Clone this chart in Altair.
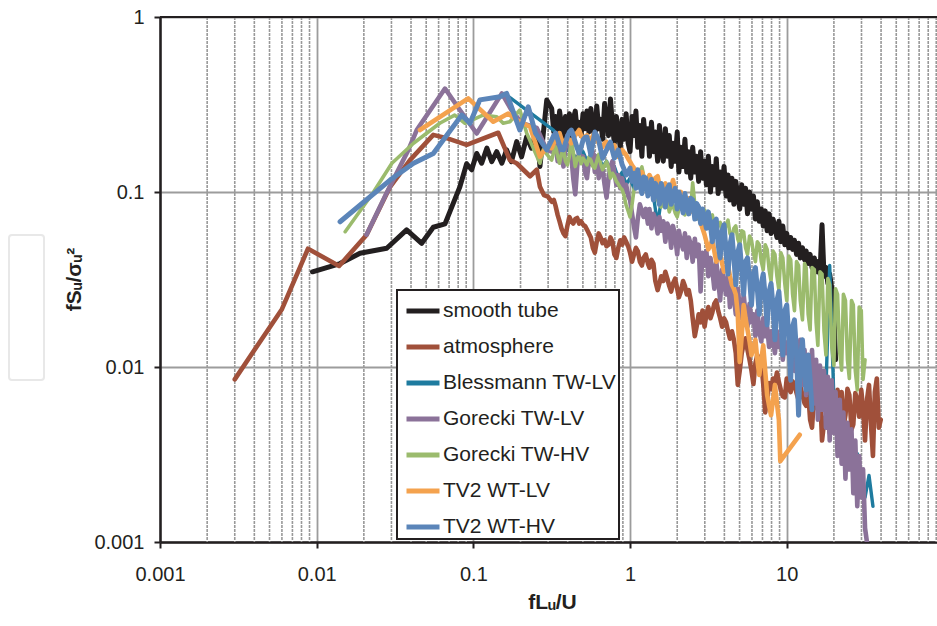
import altair as alt
import pandas as pd

SERIES = ["smooth tube", "atmosphere", "Blessmann TW-LV", "Gorecki TW-LV",
          "Gorecki TW-HV", "TV2 WT-LV", "TV2 WT-HV"]
COLORS = ["#231f20", "#a0503a", "#1e7b9f", "#8b7299", "#9bbb6d", "#f4a24e", "#5b85b9"]
WIDTHS = [5, 4.6, 3.4, 4.6, 3.6, 4.6, 5]

# frequency grid (fLu/U) of the densely sampled part of the spectra
FREQ = [0.316, 0.326, 0.335, 0.345, 0.355, 0.365, 0.376, 0.387, 0.398, 0.410,
        0.422, 0.434, 0.447, 0.460, 0.473, 0.487, 0.501, 0.516, 0.531, 0.546,
        0.562, 0.579, 0.596, 0.613, 0.631, 0.649, 0.668, 0.688, 0.708, 0.729,
        0.750, 0.772, 0.794, 0.818, 0.841, 0.866, 0.891, 0.917, 0.944, 0.972,
        1.00, 1.03, 1.06, 1.09, 1.12, 1.155, 1.19, 1.22, 1.26, 1.30,
        1.33, 1.37, 1.41, 1.45, 1.50, 1.54, 1.58, 1.63, 1.68, 1.73,
        1.78, 1.83, 1.88, 1.94, 2.00, 2.05, 2.11, 2.18, 2.24, 2.30,
        2.37, 2.44, 2.51, 2.59, 2.66, 2.74, 2.82, 2.90, 2.99, 3.07,
        3.16, 3.26, 3.35, 3.45, 3.55, 3.65, 3.76, 3.87, 3.98, 4.10,
        4.22, 4.34, 4.47, 4.60, 4.73, 4.87, 5.01, 5.16, 5.31, 5.46,
        5.62, 5.79, 5.96, 6.13, 6.31, 6.49, 6.68, 6.88, 7.08, 7.29,
        7.50, 7.72, 7.94, 8.18, 8.41, 8.66, 8.91, 9.17, 9.44, 9.72,
        10.0, 10.3, 10.6, 10.9, 11.2, 11.55, 11.9, 12.2, 12.6, 13.0,
        13.3, 13.7, 14.1, 14.5, 15.0, 15.4, 15.8, 16.3, 16.8, 17.3,
        17.8, 18.3, 18.8, 19.4, 20.0, 20.5, 21.1, 21.8, 22.4, 23.0,
        23.7, 24.4, 25.1, 25.9, 26.6, 27.4, 28.2, 29.0, 29.9, 30.7,
        31.6, 32.6, 33.5, 34.5, 35.5, 36.5, 37.6, 38.7, 39.8]

MAJOR_X = [0.001, 0.01, 0.1, 1, 10]
MAJOR_Y = [0.001, 0.01, 0.1, 1]
MINOR_X = [0.002, 0.003, 0.004, 0.005, 0.006, 0.007, 0.008, 0.009,
           0.02, 0.03, 0.04, 0.05, 0.06, 0.07, 0.08, 0.09,
           0.2, 0.3, 0.4, 0.5, 0.6, 0.7, 0.8, 0.9,
           2, 3, 4, 5, 6, 7, 8, 9,
           20, 30, 40, 50, 60, 70, 80, 90]

# smooth tube
SMOOTH_X = [0.0094, 0.0141, 0.0189, 0.028, 0.0375, 0.0468, 0.0555, 0.0659, 0.082, 0.0906,
            0.0975, 0.105, 0.113, 0.122, 0.131, 0.141, 0.152, 0.163, 0.175, 0.189,
            0.203, 0.219, 0.235, 0.254, 0.266, 0.294]
SMOOTH_Y = [0.035, 0.039, 0.0447, 0.0477, 0.0607, 0.0509, 0.0629, 0.0657, 0.107, 0.145,
            0.134, 0.166, 0.146, 0.178, 0.149, 0.17, 0.146, 0.174, 0.149, 0.194,
            0.159, 0.207, 0.178, 0.226, 0.14, 0.336]
SMOOTH_START = 0
SMOOTH_DENSE = [0.30, 0.22, 0.27, 0.21, 0.29, 0.24, 0.20, 0.27, 0.22, 0.28,
                0.21, 0.26, 0.29, 0.22, 0.25, 0.21, 0.28, 0.23, 0.29, 0.22,
                0.30, 0.24, 0.20, 0.31, 0.23, 0.26, 0.20, 0.32, 0.25, 0.21,
                0.34, 0.24, 0.19, 0.27, 0.22, 0.18, 0.26, 0.20, 0.28, 0.19,
                0.17, 0.27, 0.21, 0.29, 0.18, 0.24, 0.16, 0.26, 0.19, 0.23,
                0.16, 0.25, 0.17, 0.22, 0.15, 0.24, 0.18, 0.15, 0.23, 0.16,
                0.21, 0.14, 0.19, 0.15, 0.22, 0.13, 0.18, 0.14, 0.20, 0.13,
                0.17, 0.12, 0.18, 0.13, 0.16, 0.115, 0.17, 0.12, 0.15, 0.11,
                0.16, 0.10, 0.14, 0.11, 0.155, 0.098, 0.13, 0.105, 0.14, 0.095,
                0.125, 0.09, 0.12, 0.085, 0.115, 0.095, 0.08, 0.11, 0.085, 0.105,
                0.075, 0.10, 0.08, 0.095, 0.07, 0.088, 0.068, 0.08, 0.064, 0.078,
                0.06, 0.075, 0.058, 0.07, 0.062, 0.055, 0.068, 0.052, 0.064, 0.05,
                0.058, 0.048, 0.055, 0.047, 0.053, 0.044, 0.051, 0.042, 0.048, 0.041,
                0.046, 0.039, 0.044, 0.037, 0.042, 0.035, 0.04, 0.034, 0.065, 0.033,
                0.037, 0.03, 0.034, 0.028, 0.02, 0.011]

# atmosphere
ATM_X = [0.003, 0.006, 0.0088, 0.0139, 0.0208, 0.0294, 0.0394, 0.0555, 0.0676, 0.0906,
         0.144, 0.171, 0.189, 0.23, 0.254, 0.266, 0.282, 0.299]
ATM_Y = [0.0085, 0.0214, 0.0474, 0.0378, 0.0568, 0.107, 0.152, 0.212, 0.203, 0.186,
         0.218, 0.152, 0.146, 0.123, 0.134, 0.107, 0.096, 0.094]
ATM_START = 0
ATM_DENSE = [0.088, 0.09, 0.083, 0.074, 0.068, 0.062, 0.058, 0.056, 0.064, 0.072,
             0.068, 0.066, 0.07, 0.071, 0.066, 0.068, 0.065, 0.064, 0.061, 0.058,
             0.055, 0.048, 0.045, 0.052, 0.058, 0.055, 0.051, 0.053, 0.049, 0.05,
             0.055, 0.052, 0.044, 0.042, 0.048, 0.053, 0.05, 0.055, 0.052, 0.049,
             0.045, 0.04, 0.044, 0.048, 0.046, 0.04, 0.038, 0.042, 0.044, 0.039,
             0.037, 0.041, 0.039, 0.031, 0.0275, 0.03, 0.033, 0.031, 0.035, 0.032,
             0.029, 0.027, 0.03, 0.032, 0.028, 0.025, 0.027, 0.031, 0.029, 0.026,
             0.0275, 0.024, 0.019, 0.015, 0.017, 0.02, 0.018, 0.021, 0.017, 0.02,
             0.022, 0.019, 0.0205, 0.023, 0.024, 0.021, 0.019, 0.017, 0.019, 0.018,
             0.016, 0.0145, 0.016, 0.0143, 0.012, 0.0079, 0.0095, 0.012, 0.0135, 0.0146,
             0.0125, 0.011, 0.0095, 0.008, 0.0105, 0.0117, 0.0112, 0.0107, 0.008, 0.0055,
             0.0065, 0.0081, 0.0075, 0.0086, 0.008, 0.0093, 0.0082, 0.0074, 0.0068, 0.0067,
             0.0086, 0.0075, 0.0072, 0.0083, 0.0079, 0.0071, 0.0065, 0.0078, 0.0069, 0.0062,
             0.006, 0.0072, 0.005, 0.0045, 0.0072, 0.0066, 0.0057, 0.0074, 0.0038, 0.0048,
             0.0053, 0.0068, 0.0042, 0.0061, 0.0069, 0.0048, 0.0074, 0.0055, 0.0072, 0.0045,
             0.0053, 0.0075, 0.0069, 0.0044, 0.0047, 0.0071, 0.0065, 0.0052, 0.0074, 0.0058,
             0.0038, 0.0066, 0.0079, 0.0047, 0.0031, 0.0072, 0.0086, 0.0045, 0.005]

# Blessmann TW-LV (sampled on every second grid frequency)
BLE_X = [0.158, 0.324]
BLE_Y = [0.365, 0.226]
BLE_START = 4
BLE_STEP = 2
BLE_DENSE = [0.2, 0.19, 0.175, 0.165, 0.16, 0.155, 0.17, 0.15,
             0.165, 0.145, 0.16, 0.14, 0.15, 0.13, 0.14, 0.12, 0.13, 0.11,
             0.12, 0.105, 0.11, 0.1, 0.108, 0.1, 0.095, 0.065, 0.09, 0.085,
             0.107, 0.09, 0.095, 0.08, 0.088, 0.075, 0.082, 0.07, 0.076, 0.062,
             0.07, 0.058, 0.065, 0.05, 0.058, 0.045, 0.052, 0.04, 0.047, 0.035,
             0.04, 0.03, 0.035, 0.025, 0.03, 0.021, 0.026, 0.018, 0.022, 0.015,
             0.018, 0.0125, 0.015, 0.0105, 0.013, 0.009, 0.0105, 0.0075, 0.009, 0.0062,
             0.0075, 0.038, 0.0065, 0.0045, 0.0055, 0.0035, 0.0042, 0.0027, 0.0032, 0.0021,
             0.0018, 0.0024, 0.0016]

# Gorecki TW-LV
GLV_X = [0.0208, 0.028, 0.0385, 0.0435, 0.0659, 0.082, 0.105, 0.152, 0.175, 0.203,
         0.254, 0.294]
GLV_Y = [0.057, 0.099, 0.174, 0.226, 0.39, 0.294, 0.216, 0.366, 0.294, 0.248,
         0.232, 0.174]
GLV_START = 0
GLV_DENSE = [0.17, 0.21, 0.19, 0.15, 0.2, 0.16, 0.14, 0.18, 0.21, 0.19,
             0.16, 0.12, 0.097, 0.14, 0.17, 0.15, 0.16, 0.13, 0.12, 0.15,
             0.145, 0.17, 0.13, 0.16, 0.12, 0.14, 0.135, 0.11, 0.093, 0.12,
             0.14, 0.15, 0.13, 0.11, 0.125, 0.105, 0.12, 0.1, 0.11, 0.095,
             0.09, 0.075, 0.063, 0.055, 0.07, 0.085, 0.078, 0.072, 0.08, 0.066,
             0.08, 0.062, 0.075, 0.07, 0.058, 0.072, 0.06, 0.068, 0.052, 0.066,
             0.062, 0.048, 0.064, 0.056, 0.044, 0.06, 0.052, 0.047, 0.058, 0.042,
             0.055, 0.05, 0.04, 0.054, 0.043, 0.05, 0.027, 0.045, 0.038, 0.046,
             0.033, 0.042, 0.036, 0.028, 0.04, 0.032, 0.024, 0.036, 0.03, 0.026,
             0.034, 0.022, 0.03, 0.025, 0.02, 0.028, 0.022, 0.019, 0.026, 0.02,
             0.017, 0.023, 0.018, 0.02, 0.015, 0.021, 0.016, 0.014, 0.019, 0.015,
             0.017, 0.013, 0.016, 0.014, 0.012, 0.016, 0.013, 0.015, 0.011, 0.014,
             0.012, 0.013, 0.0105, 0.014, 0.0095, 0.0125, 0.0085, 0.0143, 0.0079, 0.0125,
             0.0069, 0.0117, 0.0075, 0.0125, 0.0062, 0.011, 0.005, 0.0102, 0.0057, 0.0095,
             0.0045, 0.0088, 0.0038, 0.0084, 0.0042, 0.0072, 0.0031, 0.0065, 0.0028, 0.0055,
             0.0023, 0.0048, 0.0026, 0.0044, 0.0019, 0.0038, 0.0016, 0.0031, 0.0018, 0.0026,
             0.0012, 0.00098]

# Gorecki TW-HV
GHV_X = [0.0152, 0.0229, 0.0302, 0.0415, 0.061, 0.076, 0.0884, 0.115, 0.141, 0.155,
         0.171, 0.198, 0.219, 0.266, 0.279]
GHV_Y = [0.0593, 0.099, 0.146, 0.19, 0.247, 0.275, 0.247, 0.275, 0.269, 0.247,
         0.252, 0.294, 0.217, 0.146, 0.174]
GHV_START = 0
GHV_DENSE = [0.152, 0.17, 0.181, 0.16, 0.146, 0.165, 0.174, 0.15, 0.143, 0.16,
             0.198, 0.17, 0.14, 0.155, 0.162, 0.145, 0.156, 0.15, 0.143, 0.158,
             0.152, 0.14, 0.137, 0.15, 0.164, 0.145, 0.134, 0.142, 0.149, 0.138,
             0.12, 0.128, 0.123, 0.115, 0.111, 0.106, 0.103, 0.095, 0.084, 0.078,
             0.072, 0.085, 0.103, 0.115, 0.125, 0.132, 0.139, 0.125, 0.117, 0.108,
             0.10, 0.106, 0.11, 0.098, 0.09, 0.085, 0.082, 0.09, 0.096, 0.087,
             0.077, 0.083, 0.084, 0.076, 0.072, 0.08, 0.084, 0.078, 0.074, 0.082,
             0.09, 0.081, 0.113, 0.085, 0.076, 0.072, 0.069, 0.075, 0.079, 0.07,
             0.065, 0.072, 0.074, 0.064, 0.058, 0.066, 0.067, 0.06, 0.059, 0.065,
             0.069, 0.058, 0.055, 0.062, 0.064, 0.054, 0.05, 0.06, 0.059, 0.048,
             0.044, 0.056, 0.053, 0.045, 0.04, 0.052, 0.05, 0.04, 0.036, 0.05,
             0.047, 0.036, 0.031, 0.046, 0.044, 0.033, 0.0275, 0.045, 0.042, 0.03,
             0.024, 0.043, 0.041, 0.026, 0.021, 0.04, 0.038, 0.024, 0.0186, 0.039,
             0.037, 0.02, 0.0163, 0.037, 0.036, 0.018, 0.0133, 0.035, 0.034, 0.016,
             0.0117, 0.032, 0.0295, 0.013, 0.0102, 0.028, 0.026, 0.012, 0.0096, 0.026,
             0.024, 0.011, 0.0086, 0.024, 0.0226, 0.0095, 0.0074, 0.022, 0.021, 0.0085,
             0.011]

# TV2 WT-LV
TLV_X = [0.0456, 0.0927, 0.134, 0.167, 0.189, 0.23, 0.266, 0.294]
TLV_Y = [0.226, 0.343, 0.252, 0.281, 0.258, 0.236, 0.159, 0.181]
TLV_START = 0
TLV_DENSE = [0.178, 0.19, 0.198, 0.205, 0.217, 0.2, 0.185, 0.195, 0.203, 0.198,
             0.19, 0.2, 0.211, 0.218, 0.226, 0.21, 0.203, 0.207, 0.211, 0.2,
             0.198, 0.21, 0.217, 0.2, 0.19, 0.185, 0.181, 0.19, 0.193, 0.185,
             0.178, 0.182, 0.185, 0.17, 0.159, 0.166, 0.174, 0.168, 0.163, 0.155,
             0.149, 0.142, 0.137, 0.13, 0.125, 0.128, 0.13, 0.122, 0.117, 0.12,
             0.125, 0.118, 0.114, 0.12, 0.123, 0.11, 0.103, 0.108, 0.112, 0.102,
             0.096, 0.105, 0.117, 0.104, 0.092, 0.096, 0.10, 0.09, 0.084, 0.088,
             0.092, 0.084, 0.077, 0.08, 0.084, 0.075, 0.067, 0.062, 0.057, 0.052,
             0.047, 0.05, 0.053, 0.046, 0.04, 0.042, 0.044, 0.039, 0.035, 0.037,
             0.038, 0.033, 0.0295, 0.028, 0.026, 0.02, 0.0107, 0.015, 0.0226, 0.019,
             0.0163, 0.014, 0.0117, 0.013, 0.0143, 0.011, 0.009, 0.011, 0.0133, 0.0095,
             0.0069, 0.006, 0.0053, 0.0065, 0.0079, 0.0062, 0.005]
TLV_TAIL_X = [9.1, 12.1]
TLV_TAIL_Y = [0.0029, 0.0041]

# TV2 WT-HV
THV_X = [0.0141, 0.0294, 0.0415, 0.0555, 0.0842, 0.0951, 0.11, 0.148, 0.163, 0.198,
         0.224, 0.249, 0.294]
THV_Y = [0.0676, 0.117, 0.146, 0.166, 0.275, 0.247, 0.336, 0.35, 0.366, 0.226,
         0.307, 0.217, 0.174]
THV_START = 0
THV_DENSE = [0.198, 0.21, 0.217, 0.2, 0.185, 0.175, 0.174, 0.19, 0.207, 0.22,
             0.226, 0.21, 0.193, 0.178, 0.167, 0.18, 0.198, 0.205, 0.206, 0.185,
             0.163, 0.19, 0.22, 0.21, 0.198, 0.175, 0.156, 0.165, 0.174, 0.185,
             0.193, 0.172, 0.156, 0.165, 0.174, 0.158, 0.143, 0.135, 0.125, 0.13,
             0.137, 0.115, 0.128, 0.105, 0.134, 0.11, 0.098, 0.122, 0.12, 0.095,
             0.106, 0.118, 0.09, 0.112, 0.103, 0.085, 0.112, 0.1, 0.082, 0.105,
             0.11, 0.085, 0.094, 0.105, 0.08, 0.1, 0.09, 0.076, 0.098, 0.085,
             0.075, 0.092, 0.09, 0.07, 0.086, 0.082, 0.066, 0.08, 0.07, 0.062,
             0.077, 0.065, 0.052, 0.068, 0.07, 0.05, 0.042, 0.06, 0.065, 0.045,
             0.034, 0.05, 0.057, 0.042, 0.0295, 0.045, 0.05, 0.036, 0.026, 0.04,
             0.042, 0.032, 0.0226, 0.034, 0.037, 0.028, 0.02, 0.03, 0.034, 0.025,
             0.0174, 0.027, 0.03, 0.022, 0.0143, 0.024, 0.027, 0.019, 0.0117, 0.021,
             0.0226, 0.015, 0.0084, 0.017, 0.0186, 0.012, 0.0053, 0.011, 0.0143, 0.009,
             0.0074, 0.0117, 0.0085, 0.0057]

SPECS = [
    (SERIES[0], SMOOTH_X, SMOOTH_Y, SMOOTH_START, 1, SMOOTH_DENSE, [], []),
    (SERIES[1], ATM_X, ATM_Y, ATM_START, 1, ATM_DENSE, [], []),
    (SERIES[2], BLE_X, BLE_Y, BLE_START, BLE_STEP, BLE_DENSE, [], []),
    (SERIES[3], GLV_X, GLV_Y, GLV_START, 1, GLV_DENSE, [], []),
    (SERIES[4], GHV_X, GHV_Y, GHV_START, 1, GHV_DENSE, [], []),
    (SERIES[5], TLV_X, TLV_Y, TLV_START, 1, TLV_DENSE, TLV_TAIL_X, TLV_TAIL_Y),
    (SERIES[6], THV_X, THV_Y, THV_START, 1, THV_DENSE, [], []),
]

rows = []
for name, sx, sy, start, step, dense, tx, ty in SPECS:
    fx = FREQ[start::step][:len(dense)]
    xs = list(sx) + fx + list(tx)
    ys = list(sy) + list(dense[:len(fx)]) + list(ty)
    for k, (xv, yv) in enumerate(zip(xs, ys)):
        rows.append({"series": name, "x": xv, "y": yv, "k": k})
df = pd.DataFrame(rows)

FONT = "Liberation Sans"
INK = "#231f20"

xscale = alt.Scale(type="log", domain=[0.001, 91], nice=False)
yscale = alt.Scale(type="log", domain=[0.001, 1], nice=False)

xaxis = alt.Axis(values=MAJOR_X, labelExpr="datum.value + ''", title="fLᵤ/U",
                 grid=True, gridColor="#9c9c9c", gridWidth=1.8,
                 domainColor=INK, domainWidth=2.5, tickColor=INK, tickWidth=2, tickSize=6,
                 labelFont=FONT, labelFontSize=20, labelColor=INK, labelPadding=16,
                 labelFlush=False, labelOverlap=False,
                 titleFont=FONT, titleFontSize=21, titleFontWeight="bold", titleColor=INK,
                 titleX=392, titleY=66, titleBaseline="alphabetic", titleAlign="center")
yaxis = alt.Axis(values=MAJOR_Y, labelExpr="datum.value + ''", title="fSᵤ/σᵤ²",
                 grid=True, gridColor="#9c9c9c", gridWidth=1.8,
                 domainColor=INK, domainWidth=2.5, tickColor=INK, tickWidth=2, tickSize=6,
                 labelFont=FONT, labelFontSize=20, labelColor=INK, labelPadding=10,
                 labelFlush=False, labelOverlap=False,
                 titleFont=FONT, titleFontSize=21, titleFontWeight="bold", titleColor=INK,
                 titleX=-80, titleY=262, titleAngle=270, titleBaseline="alphabetic",
                 titleAlign="center")

legend = alt.Legend(title=None, orient="none", legendX=237, legendY=273,
                    direction="vertical", symbolType="stroke", symbolSize=1089,
                    symbolStrokeWidth=4.8, labelFont=FONT, labelFontSize=21,
                    labelColor=INK, labelOffset=1, rowPadding=7, padding=2,
                    symbolOffset=5, labelLimit=400,
                    strokeColor=INK, fillColor="white")

color = alt.Color("series:N", scale=alt.Scale(domain=SERIES, range=COLORS), legend=legend)

minor = alt.Chart(pd.DataFrame({"x": MINOR_X})).mark_rule(
    color="#999999", strokeWidth=1.6, strokeDash=[3, 1]
).encode(x=alt.X("x:Q", scale=xscale, axis=xaxis))

top = alt.Chart(pd.DataFrame({"y": [1]})).mark_rule(color=INK, strokeWidth=2).encode(
    y=alt.Y("y:Q", scale=yscale, axis=yaxis))

ghost = alt.Chart(pd.DataFrame({"a": [0]})).mark_rect(
    filled=False, stroke="#e8e8e8", strokeWidth=2, cornerRadius=3
).encode(x=alt.value(-151), x2=alt.value(-116), y=alt.value(218), y2=alt.value(363))

lines = []
for name, w in zip(SERIES, WIDTHS):
    lines.append(
        alt.Chart(df).transform_filter(alt.datum.series == name).mark_line(
            strokeWidth=w, strokeJoin="round", strokeCap="round", clip=True
        ).encode(
            x=alt.X("x:Q", scale=xscale, axis=xaxis),
            y=alt.Y("y:Q", scale=yscale, axis=yaxis),
            color=color,
            order="k:Q",
        )
    )

chart = alt.layer(minor, top, ghost, *lines).properties(
    width=777, height=525,
    autosize=alt.AutoSizeParams(type="none"),
    padding={"left": 160, "top": 17, "right": 0, "bottom": 84},
).configure_view(stroke=None).configure_legend(strokeWidth=2)

chart.save("out.html", embed_options={"renderer": "svg", "actions": False})
